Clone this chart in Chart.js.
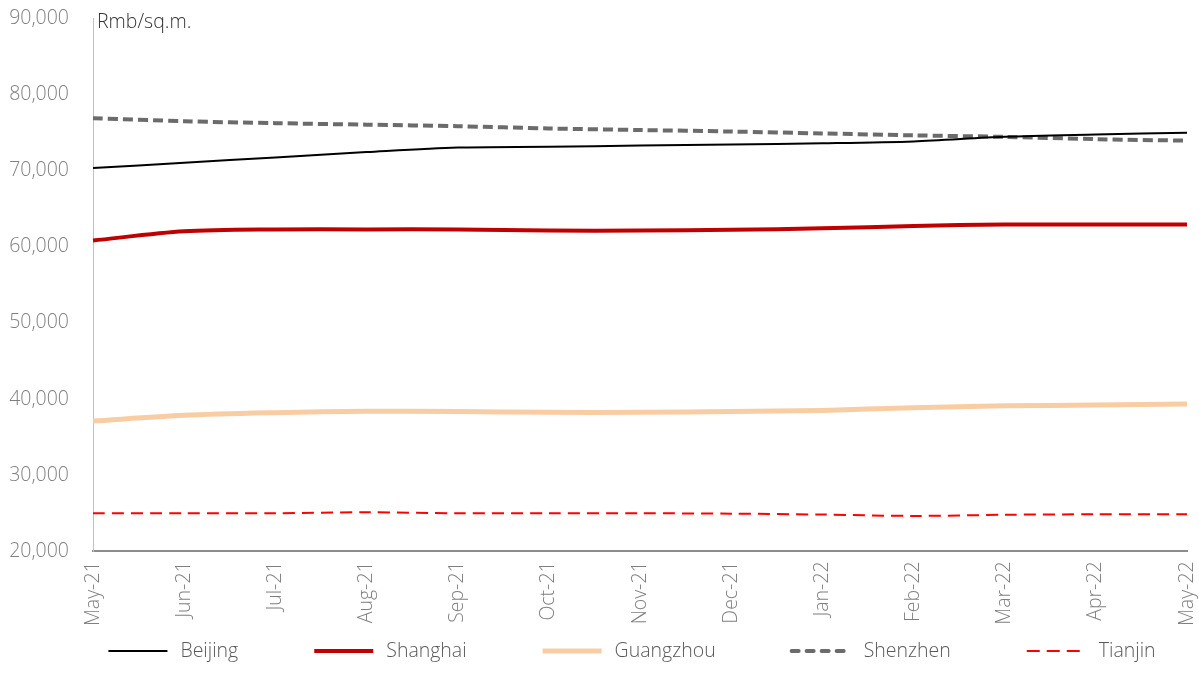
<!DOCTYPE html>
<html>
<head>
<meta charset="utf-8">
<script src="https://cdn.jsdelivr.net/npm/chart.js@4/dist/chart.umd.min.js"></script>
<style>
  html, body { margin: 0; padding: 0; background: #ffffff; }
  #wrap { width: 1199px; height: 693px; position: relative; }
</style>
</head>
<body>
<div id="wrap"><canvas id="c"></canvas></div>
<script>
const categories = ['May-21','Jun-21','Jul-21','Aug-21','Sep-21','Oct-21','Nov-21','Dec-21','Jan-22','Feb-22','Mar-22','Apr-22','May-22'];
const beijing   = [70300, 71000, 71700, 72400, 73000, 73100, 73250, 73400, 73550, 73800, 74400, 74700, 74950];
const shanghai  = [60800, 62000, 62250, 62250, 62250, 62100, 62100, 62200, 62400, 62700, 62900, 62900, 62900];
const guangzhou = [37100, 37850, 38200, 38400, 38350, 38250, 38250, 38350, 38500, 38850, 39100, 39200, 39350];
const shenzhen  = [76850, 76450, 76200, 76000, 75800, 75500, 75300, 75100, 74850, 74600, 74400, 74100, 73900];
const tianjin   = [25000, 25000, 25000, 25130, 25000, 25000, 25000, 24950, 24830, 24650, 24800, 24870, 24870];
const yMin = 20000, yMax = 90000, yStep = 10000;
const unitLabel = 'Rmb/sq.m.';

const FONT = "'Open Sans', 'Noto Sans', sans-serif";
const FS = 19.5;

const unitPlugin = {
  id: 'unitLabel',
  afterDraw(chart) {
    const ctx = chart.ctx, a = chart.chartArea;
    ctx.save();
    ctx.font = "300 " + FS + "px " + FONT;
    ctx.fillStyle = '#333333';
    ctx.textAlign = 'left';
    ctx.textBaseline = 'middle';
    ctx.fillText(unitLabel, a.left + 4, a.top + 4);
    ctx.restore();
  }
};

const legendPlugin = {
  id: 'customLegend',
  afterDraw(chart) {
    const ctx = chart.ctx;
    const sw = 59, gapText = 13, gapItem = 76, cy = 651;
    ctx.save();
    ctx.font = "300 " + FS + "px " + FONT;
    const items = chart.data.datasets.map(ds => ({ds, tw: ctx.measureText(ds.label).width}));
    let total = 0;
    items.forEach((it, i) => { total += sw + gapText + it.tw + (i ? gapItem : 0); });
    let x = 632 - total / 2;
    items.forEach(it => {
      const ds = it.ds;
      ctx.beginPath();
      ctx.setLineDash(ds.legendDash || []);
      ctx.lineCap = ds.legendCap || 'butt';
      ctx.strokeStyle = ds.borderColor;
      ctx.lineWidth = ds.borderWidth;
      ctx.moveTo(x, cy);
      ctx.lineTo(x + sw, cy);
      ctx.stroke();
      ctx.setLineDash([]);
      ctx.fillStyle = '#595959';
      ctx.textAlign = 'left';
      ctx.textBaseline = 'middle';
      ctx.fillText(ds.label, x + sw + gapText, cy);
      x += sw + gapText + it.tw + gapItem;
    });
    ctx.restore();
  }
};

new Chart(document.getElementById('c'), {
  type: 'line',
  data: {
    labels: categories,
    datasets: [
      { label: 'Beijing', data: beijing, borderColor: '#000000', borderWidth: 2, tension: 0.3 },
      { label: 'Shanghai', data: shanghai, borderColor: '#c00000', borderWidth: 4, tension: 0.3 },
      { label: 'Guangzhou', data: guangzhou, borderColor: '#f8cda3', borderWidth: 5, tension: 0.3 },
      { label: 'Shenzhen', data: shenzhen, borderColor: '#6b6b6b', borderWidth: 4, borderDash: [10, 5], tension: 0.3, legendDash: [7, 8], legendCap: 'round' },
      { label: 'Tianjin', data: tianjin, borderColor: '#ff0000', borderWidth: 2, borderDash: [12, 7], tension: 0.3, legendDash: [13, 7] }
    ]
  },
  options: {
    responsive: true,
    maintainAspectRatio: false,
    animation: false,
    layout: { padding: { left: 6, right: 12, top: 18, bottom: 57 } },
    elements: { point: { radius: 0, hoverRadius: 0 } },
    plugins: { legend: { display: false }, tooltip: { enabled: false } },
    scales: {
      x: {
        afterFit: s => { s.paddingLeft = 0; s.paddingRight = 0; },
        grid: { display: false, drawTicks: false },
        border: { display: true, color: '#8c8c8c', width: 2 },
        ticks: { autoSkip: false, minRotation: 90, maxRotation: 90, padding: 10, color: '#7f7f7f', font: { family: FONT, size: FS, weight: 300 } }
      },
      y: {
        min: yMin, max: yMax,
        afterFit: s => { s.width = 87; s.paddingTop = 0; s.paddingBottom = 0; },
        grid: { display: false, drawTicks: false },
        border: { display: true, color: '#c0c0c0', width: 1 },
        ticks: { stepSize: yStep, padding: 24, color: '#7f7f7f', font: { family: FONT, size: FS, weight: 300 },
          callback: v => v.toLocaleString('en-US') }
      }
    }
  },
  plugins: [unitPlugin, legendPlugin]
});
</script>
</body>
</html>
